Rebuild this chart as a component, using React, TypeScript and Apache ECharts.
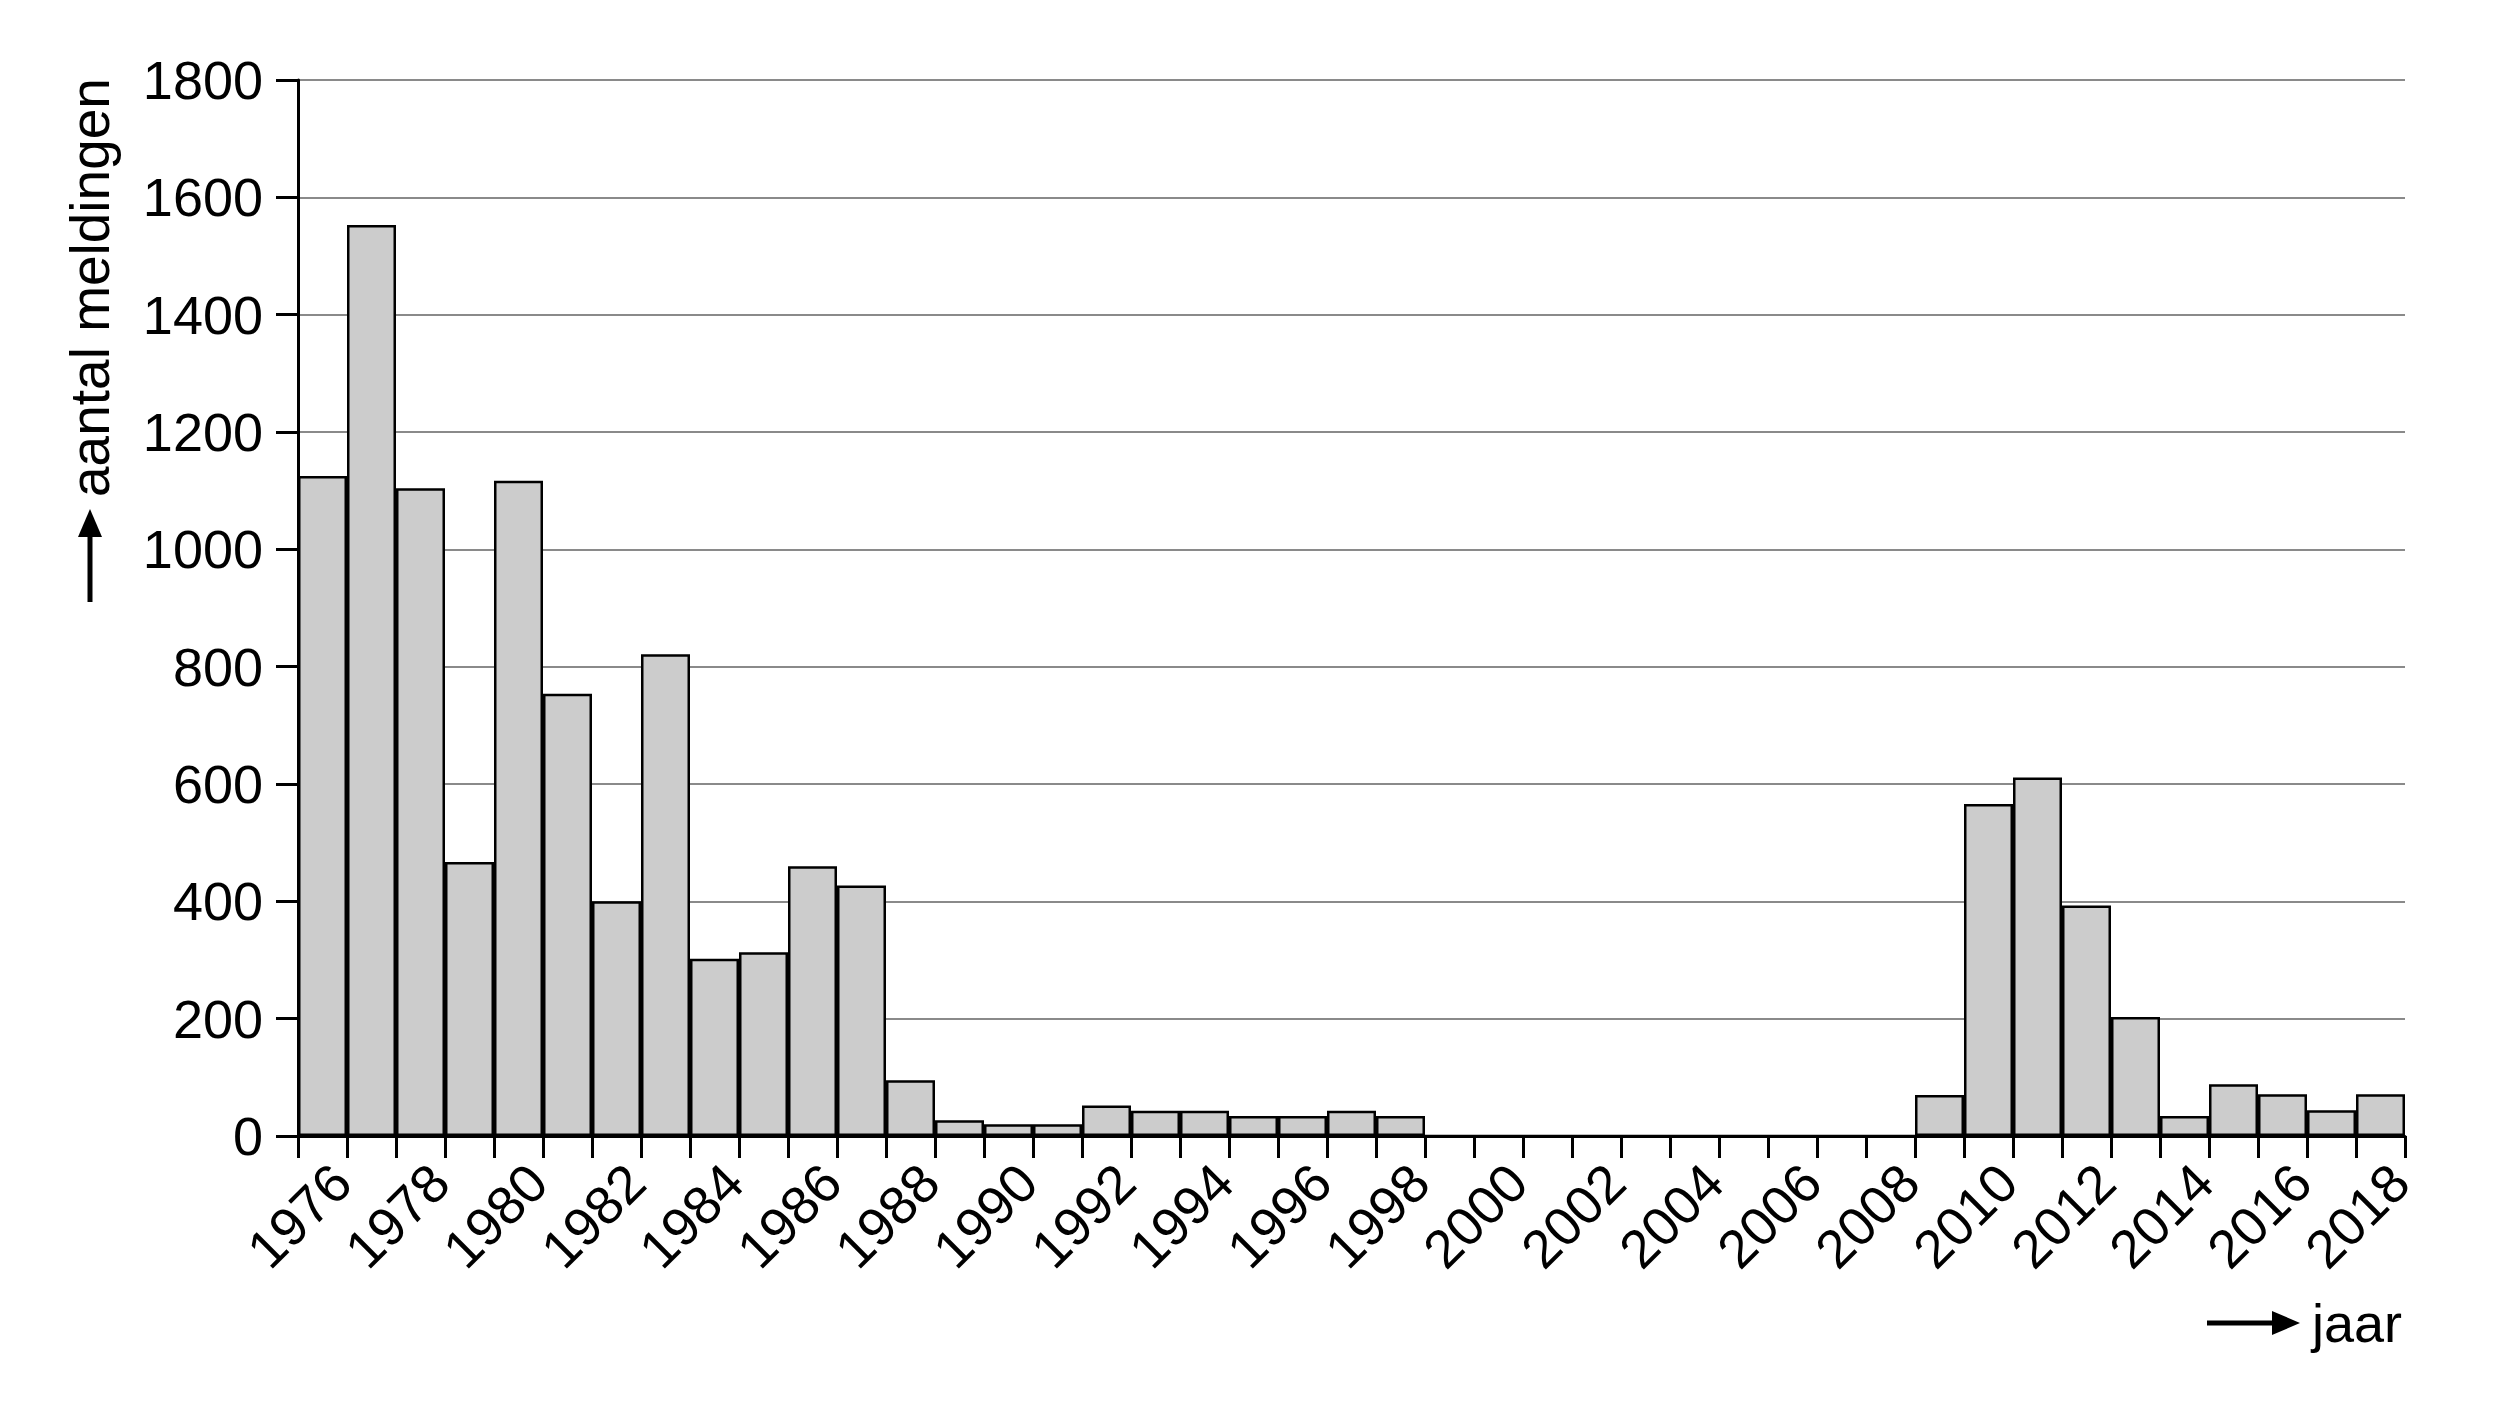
import React, { useEffect, useRef } from "react";
import * as echarts from "echarts";

const years: string[] = [
  "1976", "1977", "1978", "1979", "1980", "1981", "1982", "1983", "1984", "1985",
  "1986", "1987", "1988", "1989", "1990", "1991", "1992", "1993", "1994", "1995",
  "1996", "1997", "1998", "1999", "2000", "2001", "2002", "2003", "2004", "2005",
  "2006", "2007", "2008", "2009", "2010", "2011", "2012", "2013", "2014", "2015",
  "2016", "2017", "2018",
];

const meldingen: number[] = [
  1125, 1553, 1104, 467, 1117, 754, 400, 821, 302, 313,
  460, 427, 95, 27, 20, 20, 52, 43, 43, 34,
  34, 43, 34, 0, 0, 0, 0, 0, 0, 0,
  0, 0, 0, 70, 566, 611, 393, 203, 34, 88,
  71, 44, 71,
];

const yTicks = { min: 0, max: 1800, interval: 200 };
const yName = "aantal meldingen";
const xName = "jaar";

const FONT = "'Liberation Sans', Arial, Helvetica, sans-serif";

export default function App() {
  const ref = useRef<HTMLDivElement>(null);

  useEffect(() => {
    if (!ref.current) return;
    const chart = echarts.init(ref.current, undefined, { renderer: "svg" });
    chart.setOption({
      animation: false,
      backgroundColor: "#ffffff",
      grid: { left: 298, right: 97, top: 80, bottom: 274, containLabel: false },
      xAxis: {
        type: "category",
        data: years,
        boundaryGap: true,
        axisLine: { show: true, lineStyle: { color: "#000", width: 3 } },
        axisTick: { show: true, interval: 0, length: 22, lineStyle: { color: "#000", width: 3 } },
        axisLabel: {
          interval: 1,
          rotate: 45,
          align: "right",
          verticalAlign: "top",
          margin: 18,
          fontSize: 54,
          fontFamily: FONT,
          color: "#000",
        },
        splitLine: { show: false },
      },
      yAxis: {
        type: "value",
        min: yTicks.min,
        max: yTicks.max,
        interval: yTicks.interval,
        axisLine: { show: true, lineStyle: { color: "#000", width: 3 } },
        axisTick: { show: true, length: 22, lineStyle: { color: "#000", width: 3 } },
        axisLabel: {
          margin: 35,
          fontSize: 54,
          fontFamily: FONT,
          color: "#000",
          formatter: (v: number) => String(v),
        },
        splitLine: { show: true, lineStyle: { color: "#8a8a8a", width: 2 } },
      },
      series: [
        {
          type: "bar",
          data: meldingen,
          barCategoryGap: "0%",
          itemStyle: { color: "#cccccc", borderColor: "#000", borderWidth: 2.5 },
        },
      ],
      graphic: [
        {
          type: "text",
          x: 90,
          y: 497,
          rotation: Math.PI / 2,
          style: {
            text: yName,
            fontSize: 55,
            fontFamily: FONT,
            fill: "#000",
            align: "left",
            verticalAlign: "middle",
          },
        },
        {
          type: "line",
          shape: { x1: 90, y1: 602, x2: 90, y2: 535 },
          style: { stroke: "#000", lineWidth: 5 },
        },
        {
          type: "polygon",
          shape: { points: [[78, 537], [102, 537], [90, 509]] },
          style: { fill: "#000" },
        },
        {
          type: "line",
          shape: { x1: 2207, y1: 1323, x2: 2274, y2: 1323 },
          style: { stroke: "#000", lineWidth: 5 },
        },
        {
          type: "polygon",
          shape: { points: [[2272, 1311], [2272, 1335], [2300, 1323]] },
          style: { fill: "#000" },
        },
        {
          type: "text",
          x: 2312,
          y: 1323,
          style: {
            text: xName,
            fontSize: 54,
            fontFamily: FONT,
            fill: "#000",
            align: "left",
            verticalAlign: "middle",
          },
        },
      ],
    });
    return () => chart.dispose();
  }, []);

  return (
    <div
      ref={ref}
      style={{ position: "fixed", left: 0, top: 0, width: 2502, height: 1410, background: "#fff" }}
    />
  );
}
